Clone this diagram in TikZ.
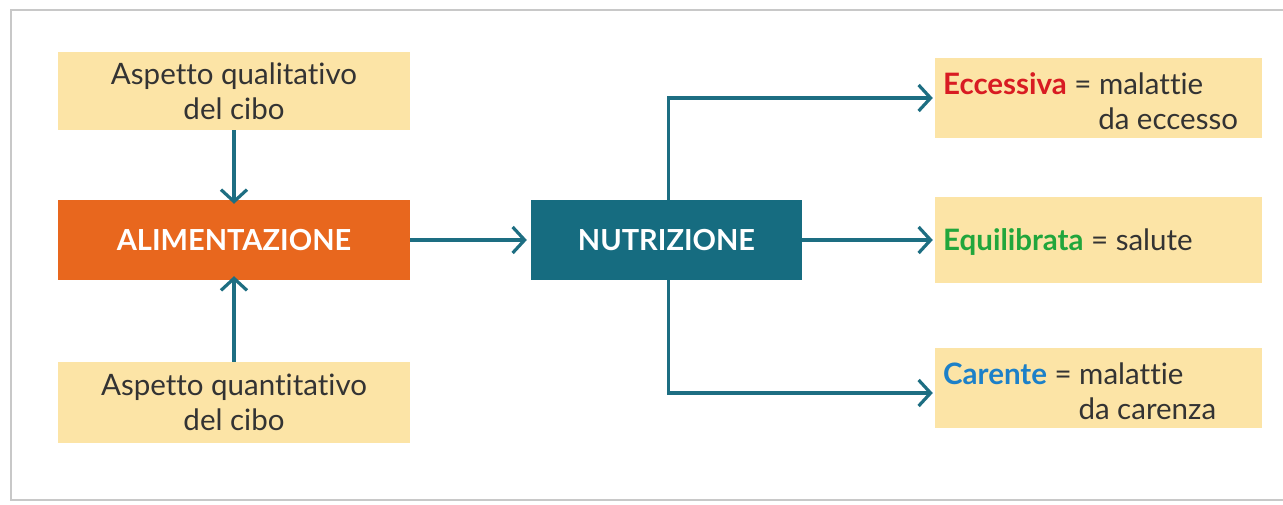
\documentclass[tikz,border=0pt]{standalone}
\usepackage{fontspec}
\setmainfont{Lato}[Ligatures={NoCommon,NoRare,NoContextual}]
\usetikzlibrary{arrows.meta}
\definecolor{boxyellow}{HTML}{FCE4A6}
\definecolor{alimorange}{HTML}{E8671E}
\definecolor{nutrteal}{HTML}{166C80}
\definecolor{arrowteal}{HTML}{1D6E82}
\definecolor{txtgray}{HTML}{333333}
\definecolor{eccred}{HTML}{D81B22}
\definecolor{eqgreen}{HTML}{21A63C}
\definecolor{carblue}{HTML}{1C80C8}
\definecolor{framegray}{HTML}{C8C8C8}
\tikzset{
  ybox/.style={fill=boxyellow, inner sep=0pt, text=txtgray, font=\fontsize{29.5}{35}\selectfont, align=center},
  mainbox/.style={inner sep=0pt, text=white, font=\bfseries\fontsize{29}{32}\selectfont},
  conn/.style={draw=arrowteal, line width=3.2pt, -{Straight Barb[length=12pt,width=26pt,line width=3.2pt]}},
  framel/.style={draw=framegray, line width=2pt}
}
\begin{document}
\begin{tikzpicture}[x=1pt,y=-1pt]
\useasboundingbox (0,0) rectangle (1283,504);
\fill[white] (0,0) rectangle (1283,504);
\draw[framel] (1283,10) -- (11,10) -- (11,500) -- (1283,500);
% left column
\node[ybox, minimum width=352pt, minimum height=78pt] (qual) at (234,91) {Aspetto qualitativo\\del cibo};
\node[mainbox, fill=alimorange, minimum width=352pt, minimum height=80pt] (alim) at (234,240) {ALIMENTAZIONE};
\node[ybox, minimum width=352pt, minimum height=81pt] (quant) at (234,402.5) {Aspetto quantitativo\\del cibo};
% centre
\node[mainbox, fill=nutrteal, minimum width=271pt, minimum height=80pt] (nutr) at (666.5,240) {NUTRIZIONE};
% right column
\node[ybox, minimum width=327pt, minimum height=80pt] (ecc) at (1098.5,98) {};
\node[ybox, minimum width=327pt, minimum height=86pt] (equ) at (1098.5,240) {};
\node[ybox, minimum width=327pt, minimum height=80pt] (car) at (1098.5,388) {};
\node[ybox, anchor=west, align=left] (ecct) at (943,101) {\textcolor{eccred}{\bfseries Eccessiva} = malattie\\\phantom{\bfseries Eccessiva = }da eccesso};
\node[ybox, anchor=west, align=left, fill=none] (equt) at (943,242) {\textcolor{eqgreen}{\bfseries Equilibrata} = salute};
\node[ybox, anchor=west, align=left] (cart) at (943,391) {\textcolor{carblue}{\bfseries Carente} = malattie\\\phantom{\bfseries Carente = }da carenza};
% connectors
\draw[conn] (qual.south) -- ([yshift=-4pt]alim.north);
\draw[conn] (quant.north) -- ([yshift=4pt]alim.south);
\draw[conn] (alim.east) -- ([xshift=-4pt]nutr.west);
\draw[conn] ([xshift=2pt]nutr.north) |- ([xshift=-2pt]ecc.west);
\draw[conn] (nutr.east) -- ([xshift=-2pt]equ.west);
\draw[conn] ([xshift=2pt]nutr.south) |- ([xshift=-2pt,yshift=-5pt]car.west);
\end{tikzpicture}
\end{document}
